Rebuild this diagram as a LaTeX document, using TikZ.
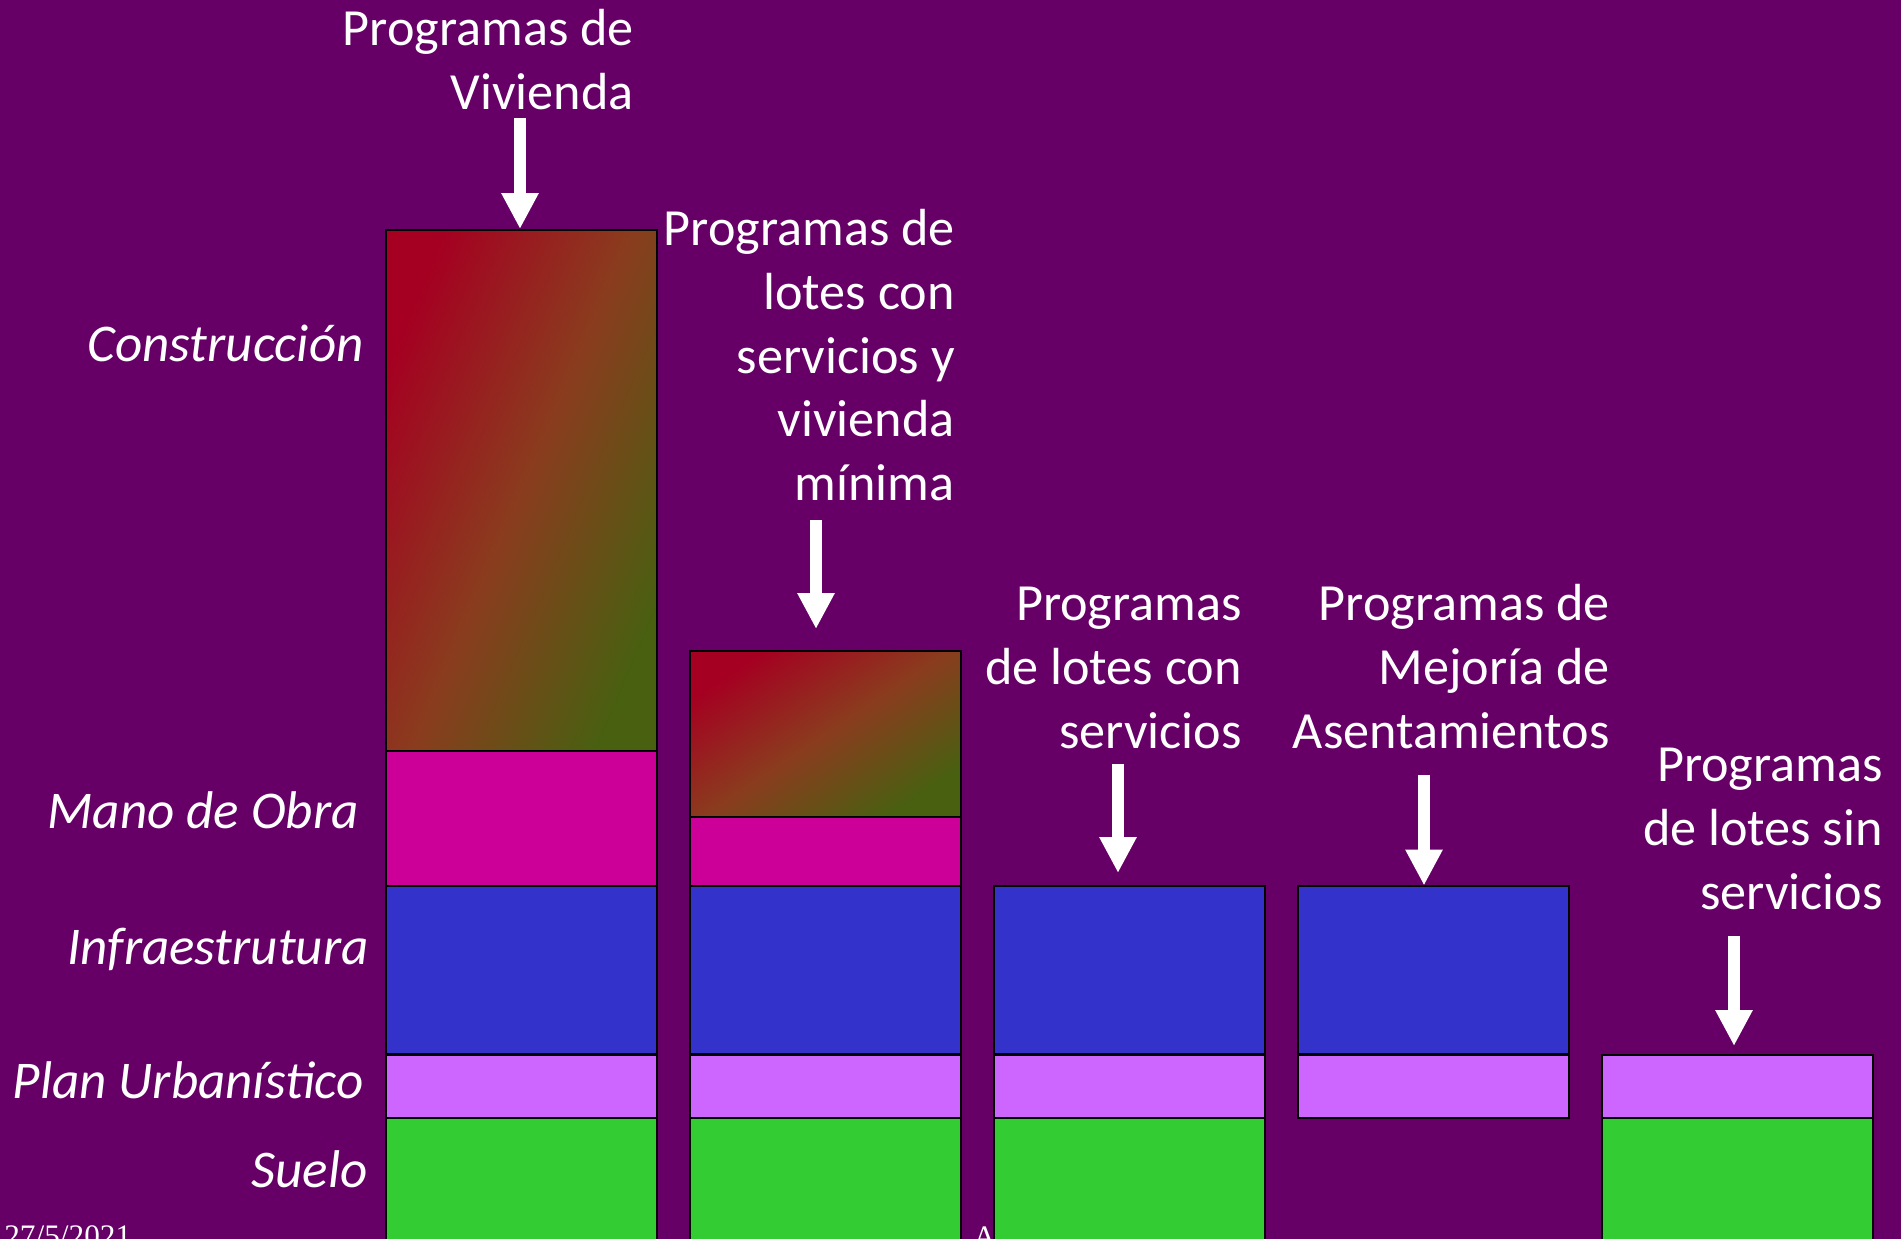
\documentclass[tikz,border=0pt]{standalone}
\usepackage{fontspec}
\setmainfont{Carlito}
\newfontfamily\fechafont{Liberation Serif}
\usetikzlibrary{arrows.meta}

\definecolor{fondo}{RGB}{102,0,102}
\definecolor{rojo}{RGB}{165,0,33}
\definecolor{marron}{RGB}{138,60,30}
\definecolor{oliva}{RGB}{72,96,16}
\definecolor{obra}{RGB}{204,0,153}
\definecolor{infra}{RGB}{51,51,204}
\definecolor{plan}{RGB}{204,102,255}
\definecolor{suelo}{RGB}{51,204,51}

\tikzset{
  capa/.style={draw=black, line width=0.04cm, inner sep=0pt, anchor=north west, minimum width=5.42cm},
  cons/.style={capa, top color=rojo, bottom color=oliva, middle color=marron, shading angle=#1},
  titulo/.style={text=white, align=right, anchor=base east, inner sep=0pt, font=\fontsize{29.7}{36.2}\selectfont},
  etiqueta/.style={text=white, anchor=base east, inner sep=0pt, font=\fontsize{30.2}{36.2}\selectfont\itshape},
  fecha/.style={text=white, anchor=base west, inner sep=0pt, font=\fechafont\fontsize{17.8}{20}\selectfont},
  flecha/.style={draw=white, line width=0.24cm, -{Triangle[width=0.7cm,length=0.72cm]}},
}

\begin{document}
\begin{tikzpicture}[x=0.02cm, y=-0.02cm]
\useasboundingbox (0,0) rectangle (1901,1239);
\fill[fondo] (0,0) rectangle (1901,1239);
% Columnas
\node[cons=67, minimum height=10.43cm] (c1) at (385,229) {};
\node[capa, fill=obra, minimum height=2.70cm] (m1) at (385,750.5) {};
\node[capa, fill=infra, minimum height=3.36cm] (i1) at (385,885.5) {};
\node[capa, fill=plan, minimum height=1.27cm] (p1) at (385,1053.5) {};
\node[capa, fill=suelo, minimum height=2.66cm] (s1) at (385,1117) {};

\node[cons=34, minimum height=3.32cm] (c2) at (689,650) {};
\node[capa, fill=obra, minimum height=1.39cm] (m2) at (689,816) {};
\node[capa, fill=infra, minimum height=3.36cm] (i2) at (689,885.5) {};
\node[capa, fill=plan, minimum height=1.27cm] (p2) at (689,1053.5) {};
\node[capa, fill=suelo, minimum height=2.66cm] (s2) at (689,1117) {};

\node[capa, fill=infra, minimum height=3.36cm] (i3) at (993,885.5) {};
\node[capa, fill=plan, minimum height=1.27cm] (p3) at (993,1053.5) {};
\node[capa, fill=suelo, minimum height=2.66cm] (s3) at (993,1117) {};

\node[capa, fill=infra, minimum height=3.36cm] (i4) at (1297,885.5) {};
\node[capa, fill=plan, minimum height=1.27cm] (p4) at (1297,1053.5) {};

\node[capa, fill=plan, minimum height=1.27cm] (p5) at (1601,1053.5) {};
\node[capa, fill=suelo, minimum height=2.66cm] (s5) at (1601,1117) {};

% Etiquetas
\node[etiqueta] (lc) at (364,362) {Construcción};
\node[etiqueta] (lm) at (359,829) {Mano de Obra};
\node[etiqueta] (li) at (369,965) {Infraestrutura};
\node[etiqueta] (lp) at (364,1098) {Plan Urbanístico};
\node[etiqueta] (ls) at (368,1187) {Suelo};

% Programas (base = ultima linea)
\node[titulo] (t1) at (634,109.6) {Programas de\\Vivienda};
\node[titulo] (t2) at (955,500.4) {Programas de\\lotes con\\servicios y\\vivienda\\mínima};
\node[titulo] (t3) at (1242,748.2) {Programas\\de lotes con\\servicios};
\node[titulo] (t4) at (1610,748.2) {Programas de\\Mejoría de\\Asentamientos};
\node[titulo] (t5) at (1883,909.2) {Programas\\de lotes sin\\servicios};

% Flechas
\coordinate (f1) at (520,118);
\coordinate (f2) at (816,520);
\coordinate (f3) at (1118,764);
\coordinate (f4) at (1424,775);
\coordinate (f5) at (1734,936);
\draw[flecha] (f1) -- (f1 |- c1.north);
\draw[flecha, shorten >=0.42cm] (f2) -- (f2 |- c2.north);
\draw[flecha, shorten >=0.25cm] (f3) -- (f3 |- i3.north);
\draw[flecha] (f4) -- (f4 |- i4.north);
\draw[flecha, shorten >=0.15cm] (f5) -- (f5 |- p5.north);

% Pie
\node[fecha] (fe) at (4,1246) {27/5/2021};
\node[fecha] (pa) at (973,1247) {A};
\end{tikzpicture}
\end{document}
